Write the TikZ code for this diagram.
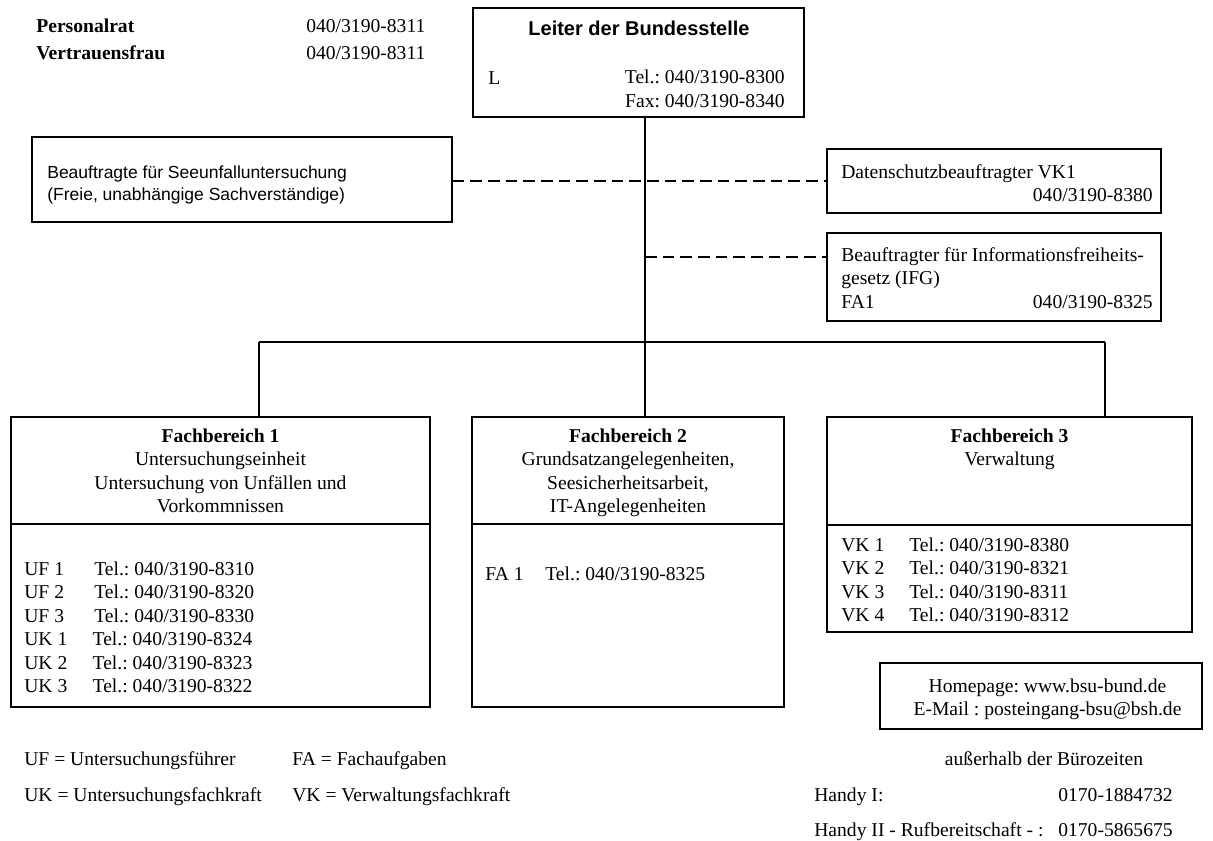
\documentclass[tikz,border=0pt]{standalone}
\usepackage{fontspec}
\setmainfont{Liberation Serif}
\setsansfont{Liberation Sans}
\frenchspacing

\newcommand{\kz}[2]{\makebox[#1][l]{#2}}

\tikzset{
  box/.style={draw, line width=0.7pt, inner sep=0pt},
  txt/.style={inner sep=0pt, font=\fontsize{11.76}{14.1}\selectfont},
  txtb/.style={inner sep=0pt, font=\fontsize{11.76}{14.1}\selectfont\bfseries},
  conn/.style={line width=0.7pt},
  dashline/.style={line width=0.7pt, dash pattern=on 7pt off 3.6pt},
}

\begin{document}
\begin{tikzpicture}[x=0.6pt, y=-0.6pt]
\useasboundingbox (0,0) rectangle (1213,841);

% boxes
\node (lead) at (638.5, 62.5) [box, minimum width=198.6pt, minimum height=65.4pt] {};
\node (seeu) at (242, 179.5) [box, minimum width=252pt, minimum height=51pt] {};
\node (dsb) at (994, 181) [box, minimum width=200.4pt, minimum height=38.4pt] {};
\node (ifg) at (994, 277) [box, minimum width=200.4pt, minimum height=52.8pt] {};
\node (fb1) at (220.5, 470.5) [box, minimum width=251.4pt, minimum height=64.2pt] {};
\node (fb1l) at (220.5, 615.5) [box, minimum width=251.4pt, minimum height=109.8pt] {};
\node (fb2) at (628, 470.5) [box, minimum width=187.2pt, minimum height=64.2pt] {};
\node (fb2l) at (628, 615.5) [box, minimum width=187.2pt, minimum height=109.8pt] {};
\node (fb3) at (1009.5, 471) [box, minimum width=219pt, minimum height=64.8pt] {};
\node (fb3l) at (1009.5, 578.5) [box, minimum width=219pt, minimum height=64.2pt] {};
\node (web) at (1041, 696) [box, minimum width=193.2pt, minimum height=39.6pt] {};

% texts
\node (prat) at (36, 33) [txtb, anchor=base west] {Personalrat};
\node (pratno) at (306, 33) [txt, anchor=base west] {040/3190-8311};
\node (vfrau) at (36, 59) [txtb, anchor=base west] {Vertrauensfrau};
\node (vfrauno) at (306, 59) [txt, anchor=base west] {040/3190-8311};

\node (leadname) at (639, 35) [txt, anchor=base, font=\fontsize{12}{14.4}\selectfont\sffamily\bfseries] {Leiter der Bundesstelle};
\node (leadl) at (488, 84) [txt, anchor=base west] {L};
\node (leadtel) at (785, 107) [txt, anchor=base east, align=right] {Tel.: 040/3190-8300\\Fax: 040/3190-8340};

\node (seeutxt) at (47, 200) [txt, anchor=base west, align=left, font=\fontsize{10.5}{13.2}\selectfont\sffamily] {Beauftragte für Seeunfalluntersuchung\\(Freie, unabhängige Sachverständige)};

\node (dsbtxt) at (841, 178) [txt, anchor=base west] {Datenschutzbeauftragter VK1};
\node (dsbno) at (1153, 201) [txt, anchor=base east] {040/3190-8380};

\node (ifgtxt) at (841, 308) [txt, anchor=base west, align=left] {Beauftragter für Informationsfreiheits-\\gesetz (IFG)\\FA1};
\node (ifgno) at (1153, 308) [txt, anchor=base east] {040/3190-8325};

\node (fb1title) at (220.5, 512.5) [txt, anchor=base, align=center] {\textbf{Fachbereich 1}\\Untersuchungseinheit\\Untersuchung von Unfällen und\\Vorkommnissen};
\node (fb2title) at (628, 512.5) [txt, anchor=base, align=center] {\textbf{Fachbereich 2}\\Grundsatzangelegenheiten,\\Seesicherheitsarbeit,\\IT-Angelegenheiten};
\node (fb3title) at (1009.5, 465.5) [txt, anchor=base, align=center] {\textbf{Fachbereich 3}\\Verwaltung};

\node (fb1tel) at (24, 692.5) [txt, anchor=base west, align=left] {\kz{42pt}{UF 1}Tel.: 040/3190-8310\\\kz{42pt}{UF 2}Tel.: 040/3190-8320\\\kz{42pt}{UF 3}Tel.: 040/3190-8330\\\kz{41pt}{UK 1}Tel.: 040/3190-8324\\\kz{41pt}{UK 2}Tel.: 040/3190-8323\\\kz{41pt}{UK 3}Tel.: 040/3190-8322};
\node (fb2tel) at (485, 580) [txt, anchor=base west] {\kz{36pt}{FA 1}Tel.: 040/3190-8325};
\node (fb3tel) at (841, 621.5) [txt, anchor=base west, align=left] {\kz{40.8pt}{VK 1}Tel.: 040/3190-8380\\\kz{40.8pt}{VK 2}Tel.: 040/3190-8321\\\kz{40.8pt}{VK 3}Tel.: 040/3190-8311\\\kz{40.8pt}{VK 4}Tel.: 040/3190-8312};

\node (webtxt) at (1047.5, 715.5) [txt, anchor=base, align=center] {Homepage: www.bsu-bund.de\\E-Mail : posteingang-bsu@bsh.de};

\node (ufleg) at (24, 765) [txt, anchor=base west] {UF = Untersuchungsführer};
\node (faleg) at (292, 765) [txt, anchor=base west] {FA = Fachaufgaben};
\node (ukleg) at (24, 801) [txt, anchor=base west] {UK = Untersuchungsfachkraft};
\node (vkleg) at (292, 801) [txt, anchor=base west] {VK = Verwaltungsfachkraft};

\node (ausser) at (1044, 765) [txt, anchor=base] {außerhalb der Bürozeiten};
\node (handy1) at (814, 801) [txt, anchor=base west] {Handy I:};
\node (handy1no) at (1058, 801) [txt, anchor=base west] {0170-1884732};
\node (handy2) at (814, 836) [txt, anchor=base west] {Handy II - Rufbereitschaft - :};
\node (handy2no) at (1058, 836) [txt, anchor=base west] {0170-5865675};

% connectors
\coordinate (bus) at (645, 342);
\coordinate (busl) at (259, 342);
\coordinate (busr) at (1105, 342);
\coordinate (ifgin) at (827, 257);

\draw[conn] (lead.south -| bus) -- (bus);
\draw[conn] (busl) -- (busr);
\draw[conn] (busl) -- (fb1.north -| busl);
\draw[conn] (bus) -- (fb2.north -| bus);
\draw[conn] (busr) -- (fb3.north -| busr);
\draw[dashline] (seeu.east |- dsb.west) -- (dsb.west);
\draw[dashline] (bus |- ifgin) -- (ifgin);
\end{tikzpicture}
\end{document}
